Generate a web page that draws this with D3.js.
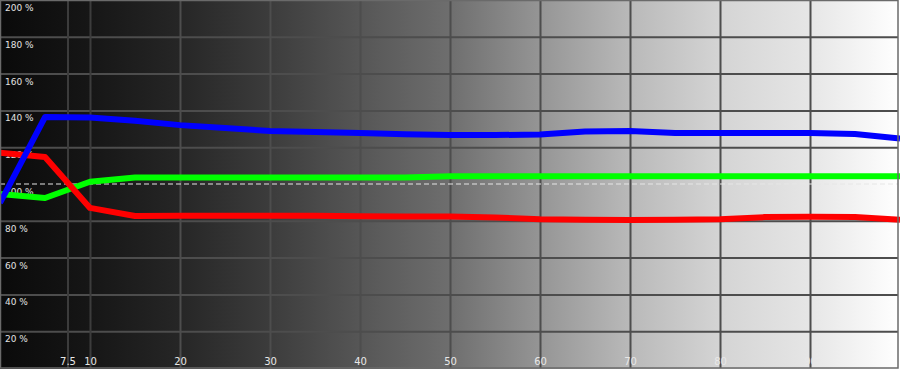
<!DOCTYPE html>
<html>
<head>
<meta charset="utf-8">
<script src="https://cdn.jsdelivr.net/npm/d3@7"></script>
<style>
html,body{margin:0;padding:0;background:#fff;}
svg{display:block;}
</style>
</head>
<body>
<svg id="chart" width="900" height="369"></svg>
<script>
// ---- data (IRE stimulus levels, percent RGB balance) ----
const levels = [0,5,10,15,20,25,30,35,40,45,50,55,60,65,70,75,80,85,90,95,100];
const redValues   = [117.0,114.7,87.0,82.6,82.8,82.8,82.8,82.8,82.5,82.3,82.3,81.8,80.8,80.6,80.4,80.6,80.8,82.0,82.2,82.0,80.6];
const greenValues = [94.6,92.4,101.2,103.5,103.6,103.6,103.6,103.6,103.6,103.6,104.2,104.2,104.2,104.2,104.2,104.2,104.2,104.2,104.2,104.2,104.2];
const blueValues  = [89.7,136.4,136.2,134.4,132.0,130.4,128.8,128.3,127.7,127.0,126.6,126.6,126.9,128.5,128.8,127.7,127.7,127.7,127.7,127.2,124.7];
const xTicks = [7.5,10,20,30,40,50,60,70,80,90];
const xTickLabels = ["7.5","10","20","30","40","50","60","70","80","90"];
const yTicks = [20,40,60,80,120,140,160,180];
const yLabelValues = [20,40,60,80,100,120,140,160,180,200];
const reference = 100;

const W = 900, H = 369;
const plotW = 898, plotH = 368;
const svg = d3.select("#chart");

const x = d3.scaleLinear().domain([0,100]).range([0,900]);
const y = d3.scaleLinear().domain([0,200]).range([plotH,0]);

// background gradient (black -> white)
const defs = svg.append("defs");
const grad = defs.append("linearGradient").attr("id","bg").attr("x1","0").attr("x2","1").attr("y1","0").attr("y2","0");
const stops = [[0,"#0a0a0a"],[10,"#161616"],[20,"#262626"],[30,"#3c3c3c"],[40,"#565656"],[50,"#6e6e6e"],[60,"#959595"],[70,"#b9b9b9"],[80,"#d4d4d4"],[90,"#e6e6e6"],[100,"#ffffff"]];
stops.forEach(s => grad.append("stop").attr("offset", s[0]+"%").attr("stop-color", s[1]));
svg.append("rect").attr("x",0).attr("y",0).attr("width",W).attr("height",H).attr("fill","url(#bg)");

// y labels (drawn below grid & lines)
svg.append("g").selectAll("text").data(yLabelValues).join("text")
  .attr("x",5).attr("y",d => y(d)+11)
  .attr("font-family","DejaVu Sans, sans-serif").attr("font-size","9px")
  .attr("fill","#e2e2e2")
  .text(d => d + " %");

// horizontal gridlines via axis
const yAxis = d3.axisLeft(y).tickValues(yTicks).tickSize(-plotW).tickFormat("");
const gy = svg.append("g").attr("transform","translate(0,0)").call(yAxis);
gy.select(".domain").remove();
gy.selectAll(".tick line").attr("stroke","#4d4d4d").attr("stroke-width",2);

// vertical gridlines + labels via axis
const xAxis = d3.axisBottom(x).tickValues(xTicks).tickSize(-plotH).tickFormat((d,i) => xTickLabels[i]);
const gx = svg.append("g").attr("transform",`translate(0,${plotH})`).call(xAxis);
gx.select(".domain").remove();
gx.selectAll(".tick line").attr("stroke", d => d < 20 ? "#3c3c3c" : "#4d4d4d").attr("stroke-width",2);
gx.selectAll(".tick text").attr("y",-3).attr("dy",0)
  .attr("font-family","DejaVu Sans, sans-serif").attr("font-size","10px")
  .attr("fill","#e8e8e8");

// reference 100% dashed line
svg.append("line").attr("x1",0).attr("x2",plotW).attr("y1",y(reference)).attr("y2",y(reference))
  .attr("stroke","#e6e6e6").attr("stroke-width",1).attr("stroke-dasharray","5,3");

// data lines
const line = d3.line().x((d,i) => x(levels[i])).y(d => y(d));
const series = [
  {vals: greenValues, color:"#00ff00"},
  {vals: redValues, color:"#ff0000"},
  {vals: blueValues, color:"#0000ff"}
];
svg.append("g").selectAll("path").data(series).join("path")
  .attr("d", d => line(d.vals))
  .attr("fill","none").attr("stroke", d => d.color)
  .attr("stroke-width",6).attr("stroke-linejoin","round").attr("stroke-linecap","butt");

// frame
svg.append("rect").attr("x",0.5).attr("y",0.5).attr("width",plotW-0.5).attr("height",plotH-0.5)
  .attr("fill","none").attr("stroke","#6a6a6a").attr("stroke-width",1.5);
</script>
</body>
</html>
